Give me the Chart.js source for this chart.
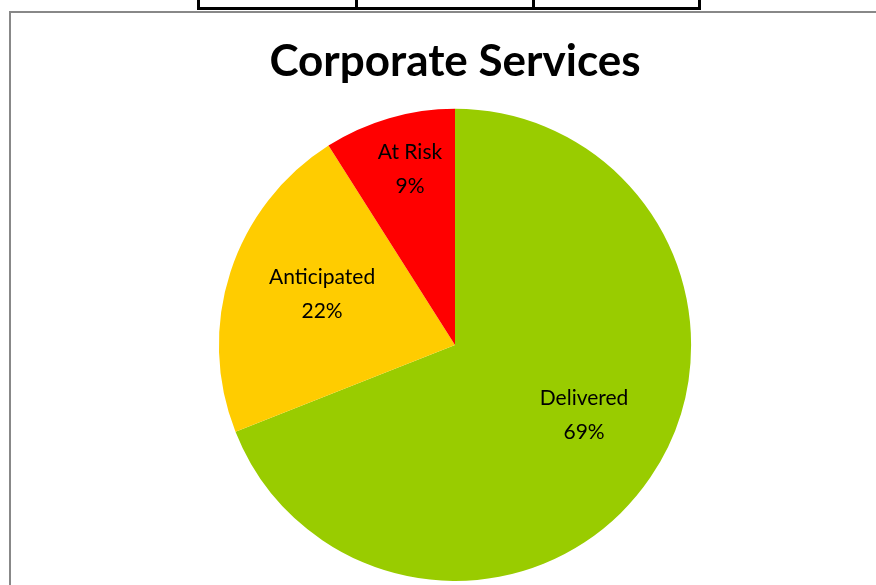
<!DOCTYPE html>
<html>
<head>
<meta charset="utf-8">
<script src="https://cdn.jsdelivr.net/npm/chart.js@4.4.0/dist/chart.umd.min.js"></script>
<style>
    html, body { margin: 0; padding: 0; background: #fff; width: 876px; height: 585px; overflow: hidden; }
    .cell { position: absolute; top: -20px; height: 24px; border: 3px solid #000; background: #fff; }
    #frame { position: absolute; left: 9px; top: 11px; width: 880px; height: 600px; border-left: 2px solid #888; border-top: 2px solid #888; }
    #wrap { position: absolute; left: 11px; top: 13px; width: 865px; height: 572px; }
</style>
</head>
<body>
<div class="cell" style="left:197px; width:155px;"></div>
<div class="cell" style="left:355px; width:174px;"></div>
<div class="cell" style="left:532px; width:163px;"></div>
<div id="frame"></div>
<div id="wrap"><canvas id="pie"></canvas></div>
<script>
// datos del gráfico
const categorias = ['Delivered', 'Anticipated', 'At Risk'];
const porcentajes = [69, 22, 9];
const colores = ['#99CC00', '#FFCC00', '#FF0000'];
const titulo = 'Corporate Services';

// colocación de etiquetas: fracción del radio y ajuste de ángulo (grados)
const radioEtiqueta = [0.622, 0.603, 0.766];
const ajusteAngulo = [-5.7, 3, 1.8];

const etiquetasPlugin = {
    id: 'etiquetas',
    afterDatasetsDraw(chart) {
        const ctx = chart.ctx;
        const meta = chart.getDatasetMeta(0);
        ctx.save();
        ctx.fillStyle = '#000';
        ctx.font = '21px Lato';
        ctx.textAlign = 'center';
        ctx.textBaseline = 'middle';
        meta.data.forEach((arc, i) => {
            const p = arc.getProps(['x', 'y', 'startAngle', 'endAngle', 'outerRadius'], true);
            const mid = (p.startAngle + p.endAngle) / 2 + ajusteAngulo[i] * Math.PI / 180;
            const r = p.outerRadius * radioEtiqueta[i];
            const x = p.x + Math.cos(mid) * r;
            const y = p.y + Math.sin(mid) * r;
            ctx.fillText(categorias[i], x, y - 17);
            ctx.fillText(porcentajes[i] + '%', x, y + 17);
        });
        ctx.restore();
    }
};

new Chart(document.getElementById('pie'), {
    type: 'pie',
    data: {
        labels: categorias,
        datasets: [{
            data: porcentajes,
            backgroundColor: colores,
            borderWidth: 0
        }]
    },
    options: {
        responsive: true,
        maintainAspectRatio: false,
        animation: false,
        layout: { padding: { left: 23, right: 0, top: 0, bottom: 4 } },
        plugins: {
            legend: { display: false },
            tooltip: { enabled: false },
            title: {
                display: true,
                text: titulo,
                color: '#000',
                font: { family: 'Lato', size: 44, weight: 'bold', lineHeight: 1.2 },
                padding: { top: 22, bottom: 21 }
            }
        }
    },
    plugins: [etiquetasPlugin]
});
</script>
</body>
</html>
